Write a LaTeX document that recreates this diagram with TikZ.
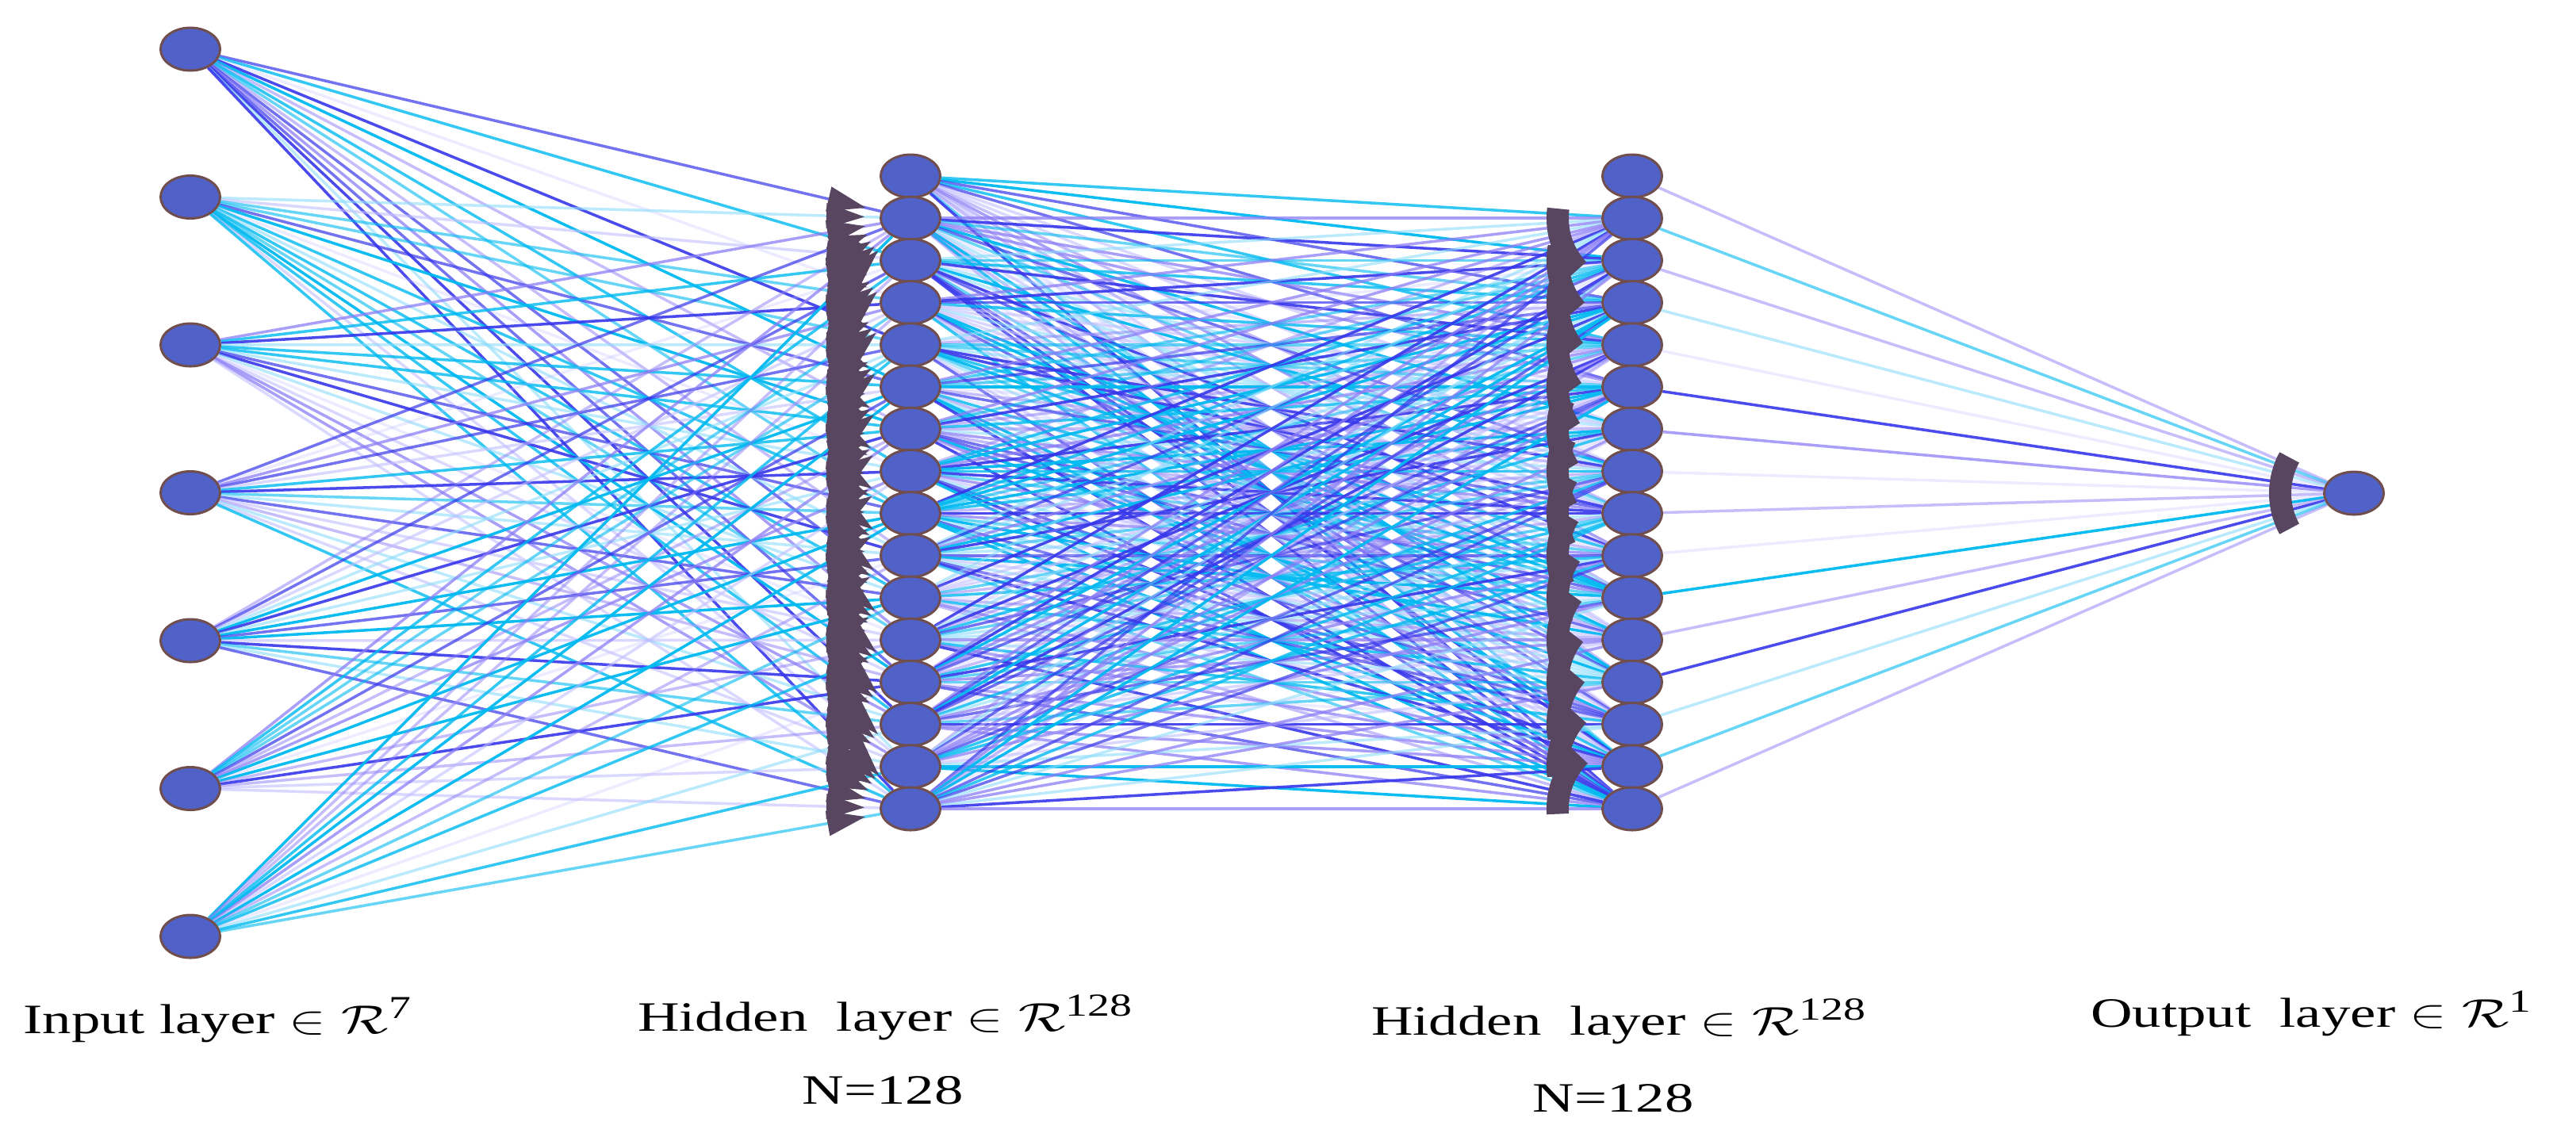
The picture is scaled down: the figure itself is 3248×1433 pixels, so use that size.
\documentclass[tikz,border=0pt]{standalone}
\usepackage{fontspec}
\setmainfont{Liberation Serif}
\usetikzlibrary{calc,shapes.geometric}
\definecolor{nodefill}{RGB}{80,98,200}
\definecolor{nodeedge}{RGB}{112,78,78}
\definecolor{darkmark}{RGB}{88,70,96}
\definecolor{lblue}{RGB}{55,55,235}
\definecolor{lcyan}{RGB}{0,185,240}
\definecolor{llav}{RGB}{140,125,245}
\definecolor{lpale}{RGB}{195,190,255}
\definecolor{lpcyan}{RGB}{140,220,250}
\pgfdeclarelayer{wires}
\pgfdeclarelayer{marks}
\pgfsetlayers{wires,marks,main}
\newcommand{\supnum}[1]{\mbox{\fontsize{11.5}{12}\selectfont #1}}
\tikzset{
  neuron/.style={ellipse, draw=nodeedge, fill=nodefill, line width=0.85pt,
    minimum width=0.75cm, minimum height=0.54cm, inner sep=0pt},
  wire/.style={line width=1pt},
  wc0/.style={draw=lblue, opacity=0.9},
  wc1/.style={draw=lblue, opacity=0.7},
  wc2/.style={draw=lcyan, opacity=0.95},
  wc3/.style={draw=lcyan, opacity=0.8},
  wc4/.style={draw=lcyan, opacity=0.6},
  wc5/.style={draw=llav, opacity=0.75},
  wc6/.style={draw=llav, opacity=0.5},
  wc7/.style={draw=lpale, opacity=0.6},
  wc8/.style={draw=lpcyan, opacity=0.6},
  wc9/.style={draw=lpale, opacity=0.3},
  arrowshape/.style={fill=darkmark},
  arcshape/.style={draw=darkmark, line width=0.28cm},
  lbl/.style={font=\fontsize{15}{18}\selectfont, inner sep=0pt, anchor=base}
}
\begin{document}
\begin{tikzpicture}[x=0.01cm, y=0.01cm]
\useasboundingbox (0,0) rectangle (3248,-1433);
\pgfmathsetseed{11}
% nodes
\foreach \i in {0,...,6}
  \node[neuron] (in\i) at (240, {-(62+186.5*\i)}) {};
\foreach \j in {0,...,15}{
  \node[neuron] (ha\j) at (1148, {-(222+53.2*\j)}) {};
  \node[neuron] (hb\j) at (2058, {-(222+53.2*\j)}) {};
}
\node[neuron] (out) at (2968,-622) {};
% connectors
\begin{pgfonlayer}{wires}
\foreach \i in {0,...,6}
  \foreach \j in {1,...,15}{
    \pgfmathrandominteger{\rc}{0}{9}
    \draw[wire, wc\rc] (in\i) -- (ha\j);
  }
\foreach \k in {0,...,15}
  \foreach \j in {1,...,15}{
    \pgfmathrandominteger{\rc}{0}{9}
    \draw[wire, wc\rc] (ha\k) -- (hb\j);
  }
\foreach \k in {0,...,15}{
  \pgfmathrandominteger{\rc}{0}{9}
  \draw[wire, wc\rc] (hb\k) -- (out);
}
\end{pgfonlayer}
% arrow marks
\begin{pgfonlayer}{marks}
\foreach \j in {1,...,15}
  \foreach \i in {0,...,6}{
    \coordinate (tp) at ($(ha\j.center)!0.58cm!(in\i.center)$);
    \coordinate (bs) at ($(ha\j.center)!1.06cm!(in\i.center)$);
    \fill[arrowshape] (tp) -- ($(bs)!0.16cm!90:(tp)$) -- ($(bs)!0.16cm!-90:(tp)$) -- cycle;
  }
\foreach \j in {1,...,15}{
  \pgfmathsetmacro\aa{180-atan(53.2*\j/910)-4}
  \pgfmathsetmacro\ab{180+atan(53.2*(15-\j)/910)+4}
  \draw[arcshape] ($(hb\j.center)+(\aa:0.94cm)$) arc[start angle=\aa, end angle=\ab, radius=0.94cm];
}
\draw[arcshape] ($(out.center)+(151:0.93cm)$) arc[start angle=151, end angle=209, radius=0.93cm];
\end{pgfonlayer}
% labels
\node[lbl] (lin) at (275,-1303) {\scalebox{1.38}[1]{Input layer $\in \mathcal{R}^{\supnum{7}}$}};
\node[lbl] (lha) at (1117,-1300) {\scalebox{1.38}[1]{Hidden~~layer $\in \mathcal{R}^{\supnum{128}}$}};
\node[lbl] (na) at (1113,-1392) {\scalebox{1.38}[1]{N=128}};
\node[lbl] (lhb) at (2042,-1305) {\scalebox{1.38}[1]{Hidden~~layer $\in \mathcal{R}^{\supnum{128}}$}};
\node[lbl] (nb) at (2034,-1402) {\scalebox{1.38}[1]{N=128}};
\node[lbl] (lout) at (2915,-1295) {\scalebox{1.38}[1]{Output~~layer $\in \mathcal{R}^{\supnum{1}}$}};
\end{tikzpicture}
\end{document}
